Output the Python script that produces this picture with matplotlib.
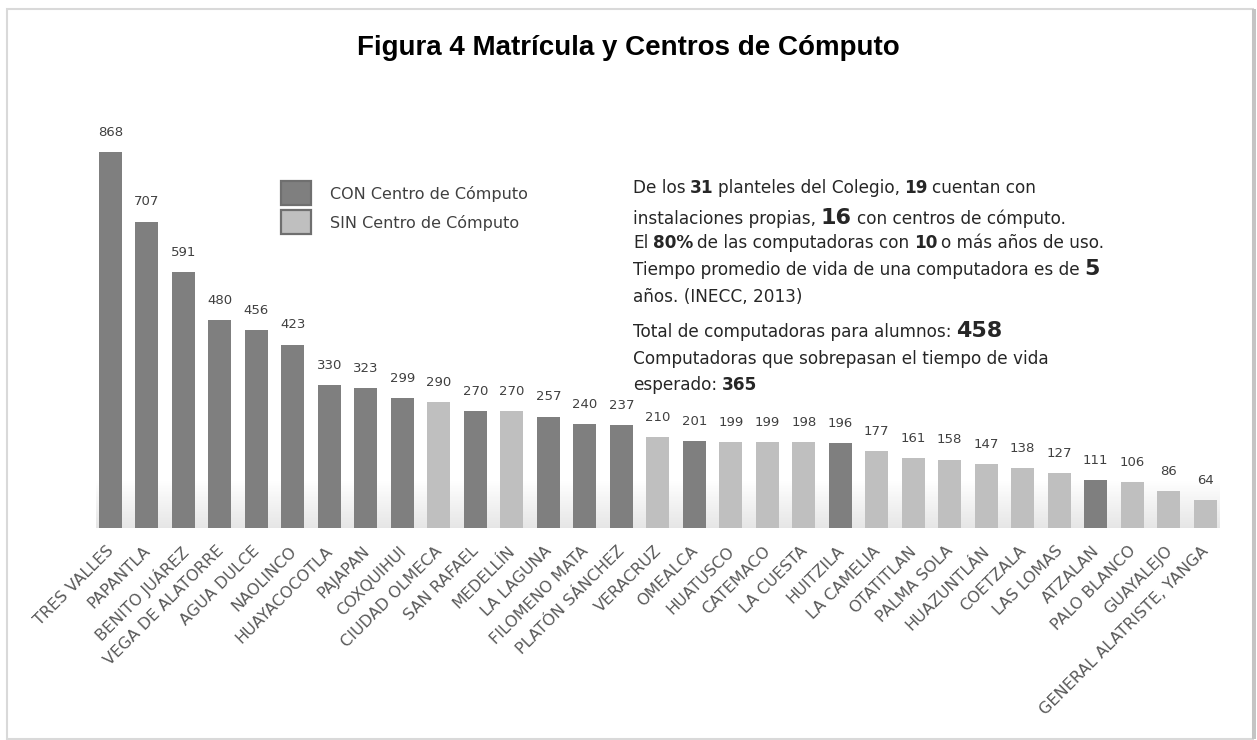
import numpy as np
import matplotlib.pyplot as plt
from matplotlib.patches import Rectangle

# planteles, computadoras y si tienen centro de computo (1 = CON, 0 = SIN)
planteles = ["TRES VALLES", "PAPANTLA", "BENITO JUÁREZ", "VEGA DE ALATORRE", "AGUA DULCE",
             "NAOLINCO", "HUAYACOCOTLA", "PAJAPAN", "COXQUIHUI", "CIUDAD OLMECA",
             "SAN RAFAEL", "MEDELLÍN", "LA LAGUNA", "FILOMENO MATA", "PLATÓN SÁNCHEZ",
             "VERACRUZ", "OMEALCA", "HUATUSCO", "CATEMACO", "LA CUESTA", "HUITZILA",
             "LA CAMELIA", "OTATITLAN", "PALMA SOLA", "HUAZUNTLÁN", "COETZALA",
             "LAS LOMAS", "ATZALAN", "PALO BLANCO", "GUAYALEJO", "GENERAL ALATRISTE, YANGA"]
valores = [868, 707, 591, 480, 456, 423, 330, 323, 299, 290, 270, 270, 257, 240, 237,
           210, 201, 199, 199, 198, 196, 177, 161, 158, 147, 138, 127, 111, 106, 86, 64]
con_centro = [1, 1, 1, 1, 1, 1, 1, 1, 1, 0, 1, 0, 1, 1, 1,
              0, 1, 0, 0, 0, 1, 0, 0, 0, 0, 0, 0, 1, 0, 0, 0]

titulo = "Figura 4 Matrícula y Centros de Cómputo"
leyenda = ["CON Centro de Cómputo", "SIN Centro de Cómputo"]

# texto del recuadro: (texto, estilo) n=normal, b=negrita, B=negrita grande
notas = [
    [("De los", "n"), ("31", "b"), ("planteles del Colegio,", "n"), ("19", "b"), ("cuentan con", "n")],
    [("instalaciones propias,", "n"), ("16", "B"), ("con centros de cómputo.", "n")],
    [("El", "n"), ("80%", "b"), ("de las computadoras con", "n"), ("10", "b"), ("o más años de uso.", "n")],
    [("Tiempo promedio de vida de una computadora es de", "n"), ("5", "B")],
    [("años. (INECC, 2013)", "n")],
    [("Total de computadoras para alumnos:", "n"), ("458", "B")],
    [("Computadoras que sobrepasan el tiempo de vida", "n")],
    [("esperado:", "n"), ("365", "b")],
]

OSCURO = "#7f7f7f"
CLARO = "#bfbfbf"
TXT = "#262626"

W, H = 1257, 740
fig = plt.figure(figsize=(W / 100, H / 100), dpi=100)


def px(x, y):
    # pixel (desde arriba-izquierda) -> fraccion de figura
    return x / W, 1 - y / H


# marco
fig.patches.append(Rectangle(px(7, 739), 1246 / W, 730 / H, transform=fig.transFigure,
                             fill=False, edgecolor="#d9d9d9", lw=1.5))
fig.patches.append(Rectangle(px(1252, 739), 4 / W, 730 / H, transform=fig.transFigure,
                             facecolor="#c4c4c4", edgecolor="none"))

fig.text(*px(628, 48), titulo, ha="center", va="center", fontsize=20,
         fontweight="bold", family="Liberation Sans", color="black")

# ejes de las barras
ax = fig.add_axes([90.4 / W, (H - 528) / H, (1225.1 - 90.4) / W, 433.5 / H])
x = np.arange(len(valores))
colores = [OSCURO if c else CLARO for c in con_centro]

# sombra tenue al pie de las barras
grad = np.zeros((50, 2, 4))
grad[..., :3] = 0.55
grad[..., 3] = np.linspace(0.22, 0, 50)[:, None]
ax.imshow(grad, extent=(-0.4, len(valores) - 0.6, 0, 110), origin="lower",
          aspect="auto", zorder=1, interpolation="bilinear")

ax.bar(x, valores, width=0.63, color=colores, zorder=2)
ax.set_xlim(-0.55, len(valores) - 0.45)
ax.set_ylim(0, 1000)
ax.axis("off")

for xi, v in zip(x, valores):
    ax.annotate(str(v), (xi, v), xytext=(0, 9.5), textcoords="offset points",
                ha="center", va="bottom", fontsize=9.5, color="#404040", family="DejaVu Sans")

for xi, nombre in zip(x, planteles):
    ax.annotate(nombre, (xi, 0), xytext=(-3, -11), textcoords="offset points",
                ha="right", va="top", rotation=45, rotation_mode="anchor",
                fontsize=11.5, color="#595959", family="DejaVu Sans")

# leyenda
for i, (lab, col) in enumerate(zip(leyenda, [OSCURO, CLARO])):
    y_top = 181 + i * 29
    fig.patches.append(Rectangle(px(281, y_top + 24), 30 / W, 24 / H, transform=fig.transFigure,
                                 facecolor=col, edgecolor="#6f6f6f", lw=1.6))
    fig.text(*px(330, y_top + 13), lab, ha="left", va="center", fontsize=11.5,
             color="#404040", family="DejaVu Sans")

# recuadro de texto con tamanos mezclados
renderer = fig.canvas.get_renderer()
estilos = {"n": dict(fontsize=12.2, fontweight="normal"),
           "b": dict(fontsize=12.2, fontweight="bold"),
           "B": dict(fontsize=16, fontweight="bold")}
baselines = [193, 224, 248, 275, 302, 337, 364, 390]
for linea, yb in zip(notas, baselines):
    xp = 633
    for texto, est in linea:
        t = fig.text(xp / W, 1 - yb / H, texto, ha="left", va="baseline",
                     color=TXT, family="DejaVu Sans", **estilos[est])
        bb = t.get_window_extent(renderer)
        esp = fig.text(0, 0, "x x", fontsize=estilos[est]["fontsize"], family="DejaVu Sans")
        esp2 = fig.text(0, 0, "xx", fontsize=estilos[est]["fontsize"], family="DejaVu Sans")
        gap = esp.get_window_extent(renderer).width - esp2.get_window_extent(renderer).width
        esp.remove()
        esp2.remove()
        xp = bb.x1 + gap * 0.8

fig.savefig("out.png", dpi=100)
